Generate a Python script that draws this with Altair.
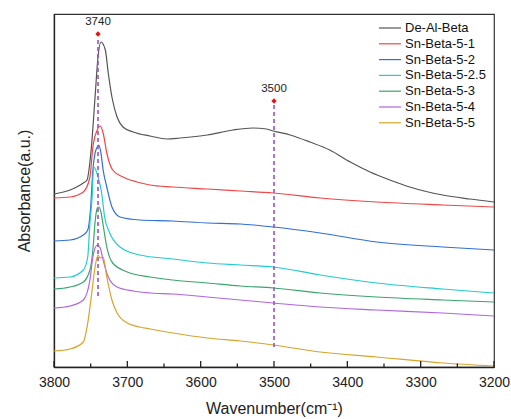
import altair as alt
import pandas as pd

FONT = "Liberation Sans"

# --- FTIR hydroxyl-region spectra (wavenumber in cm-1, absorbance in a.u.) ---
series_names = [
    "De-Al-Beta", "Sn-Beta-5-1", "Sn-Beta-5-2", "Sn-Beta-5-2.5",
    "Sn-Beta-5-3", "Sn-Beta-5-4", "Sn-Beta-5-5",
]
series_colors = ["#555555", "#f04646", "#2f6fd8", "#22cccc", "#3aa56e", "#b066e0", "#d8a42a"]

wn_deal = [3800, 3778, 3760, 3755, 3749, 3744, 3740, 3736, 3730, 3726, 3721, 3714, 3706, 3692,
           3669, 3646, 3628, 3591, 3556, 3529, 3510, 3501, 3478, 3451, 3424, 3396, 3369, 3342,
           3315, 3270, 3233, 3200]
ab_deal = [1.73, 1.77, 1.84, 1.87, 2.20, 2.70, 3.10, 3.25, 3.17, 2.94, 2.70, 2.50, 2.40, 2.35,
           2.31, 2.28, 2.29, 2.32, 2.37, 2.39, 2.38, 2.36, 2.32, 2.25, 2.17, 2.05, 1.95, 1.87,
           1.80, 1.72, 1.68, 1.65]

wn_s1 = [3800, 3778, 3760, 3751, 3747, 3741, 3737, 3733, 3728, 3720, 3706, 3687, 3669, 3638,
         3591, 3546, 3501, 3437, 3360, 3270, 3200]
ab_s1 = [1.69, 1.70, 1.75, 1.90, 2.20, 2.37, 2.41, 2.34, 2.14, 1.97, 1.90, 1.85, 1.82, 1.80,
         1.78, 1.76, 1.74, 1.69, 1.65, 1.62, 1.60]

wn_s2 = [3800, 3778, 3760, 3754, 3750, 3747, 3744, 3741, 3739, 3736, 3733, 3728, 3721, 3710,
         3683, 3638, 3591, 3546, 3501, 3437, 3360, 3270, 3200]
ab_s2 = [1.26, 1.27, 1.32, 1.37, 1.60, 1.97, 2.14, 2.20, 2.22, 2.14, 1.97, 1.80, 1.60, 1.50,
         1.47, 1.46, 1.44, 1.43, 1.40, 1.34, 1.25, 1.20, 1.17]

wn_s25 = [3800, 3778, 3760, 3754, 3751, 3748, 3746, 3743, 3740, 3735, 3731, 3724, 3710, 3683,
          3638, 3591, 3546, 3501, 3437, 3360, 3270, 3200]
ab_s25 = [0.89, 0.90, 0.97, 1.10, 1.44, 1.70, 2.00, 1.97, 1.90, 1.74, 1.50, 1.34, 1.20, 1.12,
          1.08, 1.04, 1.02, 1.00, 0.92, 0.84, 0.78, 0.74]

wn_s3 = [3800, 3778, 3760, 3751, 3747, 3744, 3741, 3739, 3736, 3733, 3728, 3720, 3700, 3669,
         3638, 3591, 3546, 3501, 3437, 3360, 3270, 3200]
ab_s3 = [0.78, 0.80, 0.85, 0.97, 1.17, 1.45, 1.59, 1.60, 1.55, 1.42, 1.20, 1.04, 0.95, 0.90,
         0.87, 0.84, 0.81, 0.79, 0.74, 0.70, 0.67, 0.65]

wn_s4 = [3800, 3778, 3760, 3751, 3747, 3741, 3737, 3733, 3726, 3714, 3692, 3669, 3638, 3591,
         3546, 3501, 3437, 3360, 3270, 3200]
ab_s4 = [0.59, 0.61, 0.67, 0.87, 1.10, 1.22, 1.19, 1.07, 0.90, 0.80, 0.76, 0.74, 0.73, 0.70,
         0.67, 0.64, 0.60, 0.57, 0.54, 0.51]

wn_s5 = [3800, 3778, 3760, 3754, 3748, 3744, 3740, 3737, 3733, 3728, 3721, 3714, 3700, 3683,
         3669, 3638, 3591, 3546, 3501, 3437, 3360, 3270, 3200]
ab_s5 = [0.16, 0.18, 0.25, 0.44, 0.77, 1.00, 1.12, 1.09, 1.10, 0.90, 0.67, 0.54, 0.44, 0.40,
         0.38, 0.34, 0.29, 0.26, 0.22, 0.15, 0.10, 0.04, 0.01]

# Band markers (diamond + label) and the dashed guide lines below them
marker_wn = [3740, 3500]
marker_ab = [3.33, 2.66]
marker_text = ["3740", "3500"]
guide_top = [3.27, 2.62]
guide_bottom = [0.70, 0.20]

major_ticks = [3800, 3700, 3600, 3500, 3400, 3300, 3200]
minor_ticks = [3750, 3650, 3550, 3450, 3350, 3250]

# ---------------------------------------------------------------------------
wn_lists = [wn_deal, wn_s1, wn_s2, wn_s25, wn_s3, wn_s4, wn_s5]
ab_lists = [ab_deal, ab_s1, ab_s2, ab_s25, ab_s3, ab_s4, ab_s5]
rows = []
for name, wns, abs_ in zip(series_names, wn_lists, ab_lists):
    for w, a in zip(wns, abs_):
        rows.append({"series": name, "wavenumber": w, "absorbance": a})
spectra = pd.DataFrame(rows)

markers = pd.DataFrame({"wavenumber": marker_wn, "absorbance": marker_ab, "label": marker_text,
                        "top": guide_top, "bottom": guide_bottom})
ticks_major = pd.DataFrame({"wavenumber": major_ticks})
ticks_minor = pd.DataFrame({"wavenumber": minor_ticks})

x_scale = alt.Scale(domain=[3800, 3200], nice=False, zero=False)
y_scale = alt.Scale(domain=[0, 3.53], nice=False, zero=True)

x_axis = alt.Axis(values=major_ticks, format="d", title="Wavenumber(cm⁻¹)", ticks=False,
                  grid=False, labelFontSize=14, labelFont=FONT, labelColor="#222",
                  labelFlush=False, labelOverlap=False,
                  labelPadding=8, titleFontSize=16, titleFont=FONT, titleFontWeight="normal",
                  titleColor="#222", titlePadding=11, domainColor="#222", domainWidth=1.3)
y_axis = alt.Axis(labels=False, ticks=False, grid=False, title="Absorbance(a.u.)",
                  titleFontSize=16, titleFont=FONT, titleFontWeight="normal",
                  titleColor="#222", titlePadding=22, domainColor="#222", domainWidth=1.3)

# legend swatch: a horizontal stroke reaching 3 radii right of the symbol centre,
# so the entry height stays small while the line stays long
lines = alt.Chart(spectra).mark_line(strokeWidth=1.2, interpolate="monotone").encode(
    x=alt.X("wavenumber:Q", scale=x_scale, axis=x_axis),
    y=alt.Y("absorbance:Q", scale=y_scale, axis=y_axis),
    color=alt.Color(
        "series:N",
        sort=series_names,
        scale=alt.Scale(domain=series_names, range=series_colors),
        legend=alt.Legend(
            title=None, orient="none", legendX=324, legendY=7.5,
            symbolType="M-1,0H3", symbolSize=121, symbolStrokeWidth=1.2,
            labelFontSize=13, labelFont=FONT, labelColor="#111", labelOffset=14,
            rowPadding=1.8, padding=0,
        ),
    ),
)

guides = alt.Chart(markers).mark_rule(color="#9b4fc8", strokeWidth=1.6, strokeDash=[4, 3]).encode(
    x=alt.X("wavenumber:Q", scale=x_scale),
    y=alt.Y("top:Q", scale=y_scale),
    y2="bottom:Q",
)

diamonds = alt.Chart(markers).mark_point(shape="diamond", filled=True, color="#ee1111",
                                         size=28, opacity=1).encode(
    x=alt.X("wavenumber:Q", scale=x_scale),
    y=alt.Y("absorbance:Q", scale=y_scale),
)

labels = alt.Chart(markers).mark_text(font=FONT, fontSize=11.5, color="#222", dy=-12).encode(
    x=alt.X("wavenumber:Q", scale=x_scale),
    y=alt.Y("absorbance:Q", scale=y_scale),
    text="label:N",
)

# inward-pointing ticks on the bottom axis
major_tick_marks = alt.Chart(ticks_major).mark_rule(color="#222", strokeWidth=1.3).encode(
    x=alt.X("wavenumber:Q", scale=x_scale), y=alt.value(353), y2=alt.value(347),
)
minor_tick_marks = alt.Chart(ticks_minor).mark_rule(color="#222", strokeWidth=1.3).encode(
    x=alt.X("wavenumber:Q", scale=x_scale), y=alt.value(353), y2=alt.value(349.5),
)

chart = alt.layer(
    lines, guides, diamonds, labels, major_tick_marks, minor_tick_marks
).properties(
    width=440,
    height=353,
    autosize=alt.AutoSizeParams(type="none"),
    padding={"left": 54, "top": 14, "right": 17, "bottom": 52},
    background="white",
).configure_view(
    stroke="#333", strokeWidth=1.2,
)

chart.save("out.html", embed_options={"renderer": "svg", "actions": False})
